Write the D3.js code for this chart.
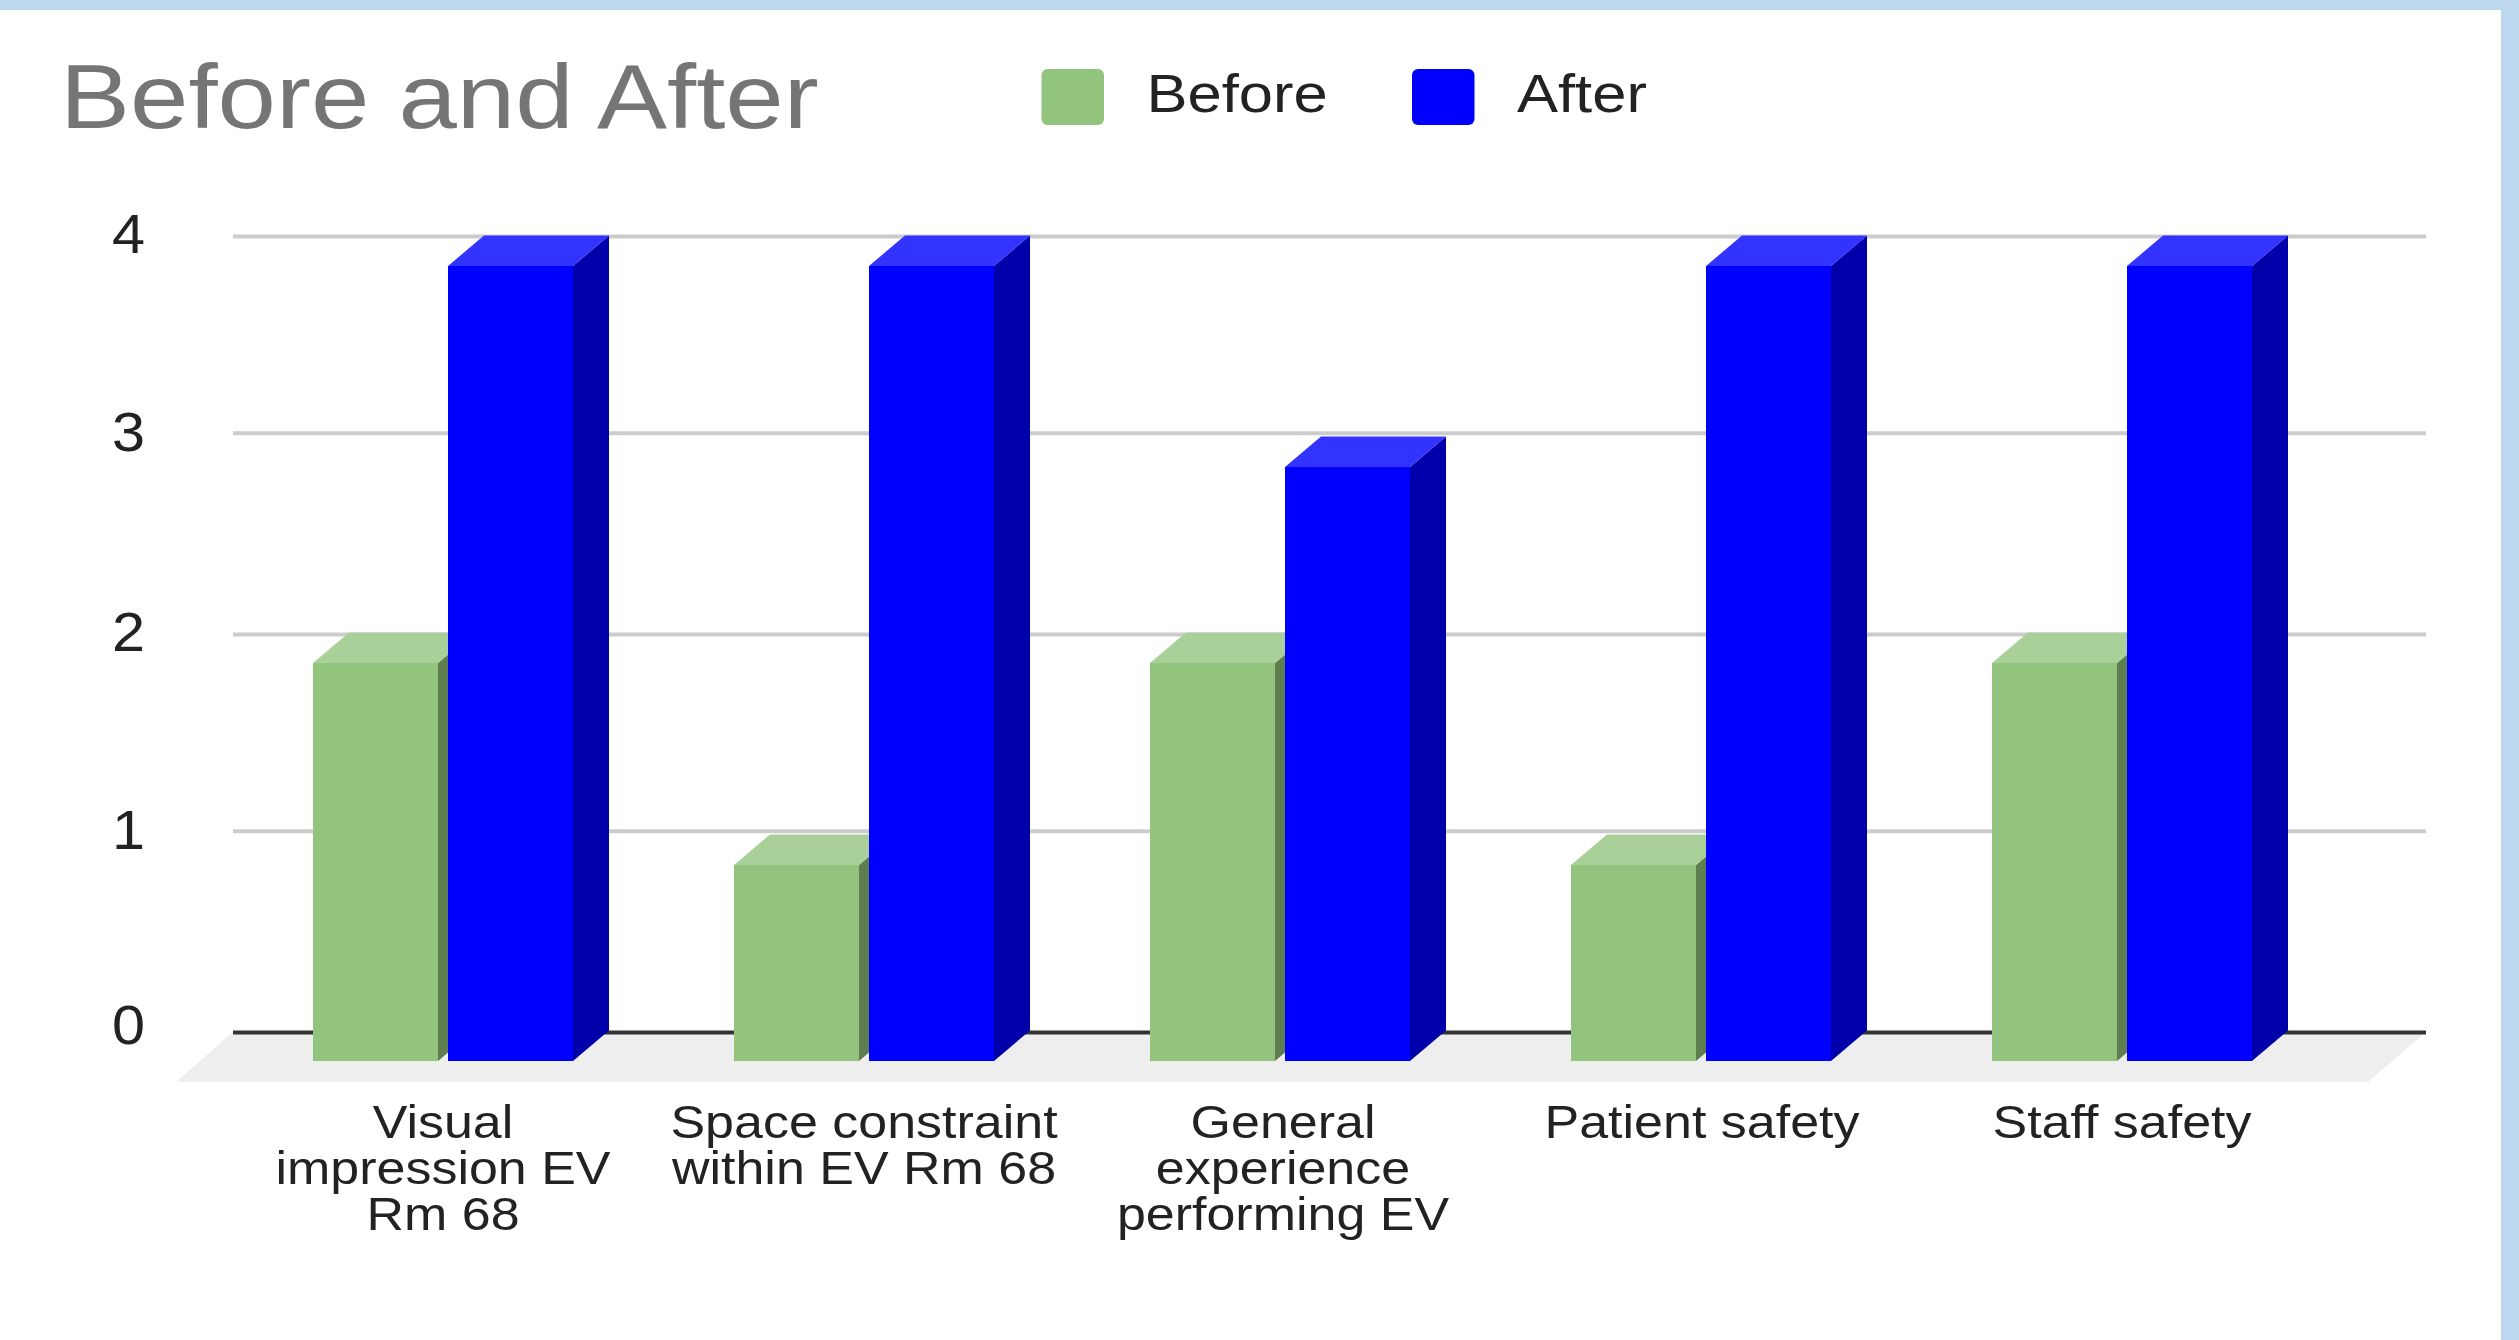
<!DOCTYPE html>
<html>
<head>
<meta charset="utf-8">
<script src="https://cdn.jsdelivr.net/npm/d3@7"></script>
<style>
  html, body { margin: 0; padding: 0; background: #fff; overflow: hidden; }
  svg { display: block; }
  text { font-family: "Liberation Sans", Arial, sans-serif; }
</style>
</head>
<body>
<svg id="chart" width="2519" height="1340"></svg>
<script>
// ---- data ----
const chartTitle = "Before and After";
const categories = [
  "Visual impression EV Rm 68",
  "Space constraint within EV Rm 68",
  "General experience performing EV",
  "Patient safety",
  "Staff safety"
];
const categoryLines = [
  ["Visual", "impression EV", "Rm 68"],
  ["Space constraint", "within EV Rm 68"],
  ["General", "experience", "performing EV"],
  ["Patient safety"],
  ["Staff safety"]
];
const seriesNames = ["Before", "After"];
const beforeValues = [2, 1, 2, 1, 2];
const afterValues = [4, 4, 3, 4, 4];
const yTicks = [0, 1, 2, 3, 4];

// ---- layout ----
const seriesValues = [beforeValues, afterValues];
const fills = [
  { front: "#93C47D", top: "#A9D098", side: "#5E7E50" },
  { front: "#0000FF", top: "#3333FF", side: "#0000AA" }
];
const barWidth = 125, seriesStep = 135, depthX = 36, depthY = 30.5;
const gridLeft = 233, gridRight = 2426;

const svg = d3.select("#chart");

// Scales
const x = d3.scaleOrdinal().domain(categories).range([313, 734, 1150, 1571, 1992]);
const xLabel = d3.scaleOrdinal().domain(categories).range([443, 864, 1283, 1702, 2122]);
const yBack = d3.scaleLinear().domain(yTicks).range([1032, 830.7, 634, 432.7, 236]);
const yFront = d3.scaleLinear().domain(yTicks).range([1061, 865, 663, 467, 266]);
const yText = d3.scaleLinear().domain(yTicks).range([1043, 848, 650, 450, 252]);

// Helper: text stretched wider the way the reference is
function stretched(g, px, py, str, size, sx, color, anchor) {
  return g.append("text")
    .attr("transform", `translate(${px},${py}) scale(${sx},1)`)
    .attr("font-size", size)
    .attr("fill", color)
    .attr("text-anchor", anchor || "start")
    .text(str);
}

// Page bands
svg.append("rect").attr("x", 0).attr("y", 0).attr("width", 2519).attr("height", 10).attr("fill", "#BDD7EE");
svg.append("rect").attr("x", 2501).attr("y", 0).attr("width", 18).attr("height", 1340).attr("fill", "#BDD7EE");

// Title
stretched(svg, 60, 128, chartTitle, 90.5, 1.16, "#757575");

// Legend
const legendSwatchX = [1041.5, 1412];
const legendTextX = [1146.5, 1517];
seriesNames.forEach((name, i) => {
  svg.append("rect")
    .attr("x", legendSwatchX[i]).attr("y", 69)
    .attr("width", 62.5).attr("height", 56)
    .attr("rx", 6).attr("ry", 6)
    .attr("fill", fills[i].front);
  stretched(svg, legendTextX[i], 112, name, 53.5, 1.15, "#222222");
});

// Floor
svg.append("polygon")
  .attr("points", [[gridLeft, 1032], [gridRight, 1032], [2368, 1082], [176, 1082]].join(" "))
  .attr("fill", "#EEEEEE");

// Gridlines from an axis
const gridAxis = d3.axisLeft(yBack).tickValues(yTicks)
  .tickSize(-(gridRight - gridLeft)).tickFormat("");
const gridG = svg.append("g").attr("transform", `translate(${gridLeft},0)`).call(gridAxis);
gridG.select(".domain").remove();
gridG.selectAll(".tick line")
  .attr("stroke", d => d === 0 ? "#333333" : "#CCCCCC")
  .attr("stroke-width", 4);

// Y labels from an axis
const labelAxis = d3.axisLeft(yText).tickValues(yTicks).tickSize(0).tickFormat(d3.format("d"));
const labelG = svg.append("g").attr("transform", "translate(145,0)").call(labelAxis);
labelG.select(".domain").remove();
labelG.selectAll(".tick line").remove();
labelG.attr("font-size", null).attr("font-family", null);
labelG.selectAll(".tick text")
  .attr("x", 0).attr("dy", 0).attr("y", 0)
  .attr("transform", "scale(1.08,1)")
  .attr("font-size", 55)
  .attr("text-anchor", "end")
  .attr("fill", "#222222");

// 3D bars
const barData = [];
categories.forEach((c, ci) => seriesNames.forEach((s, si) => {
  barData.push({ category: c, seriesIndex: si, value: seriesValues[si][ci] });
}));

const bars = svg.append("g").selectAll("g").data(barData).join("g");
const pts = a => a.map(p => p.join(",")).join(" ");
const left = d => x(d.category) + d.seriesIndex * seriesStep;

bars.append("polygon") // right side
  .attr("points", d => {
    const r = left(d) + barWidth, t = yFront(d.value), b = yFront(0);
    return pts([[r, t], [r + depthX, t - depthY], [r + depthX, b - depthY], [r, b]]);
  })
  .attr("fill", d => fills[d.seriesIndex].side);

bars.append("polygon") // top
  .attr("points", d => {
    const l = left(d), r = l + barWidth, t = yFront(d.value);
    return pts([[l, t], [l + depthX, t - depthY], [r + depthX, t - depthY], [r, t]]);
  })
  .attr("fill", d => fills[d.seriesIndex].top);

bars.append("rect") // front
  .attr("x", left)
  .attr("y", d => yFront(d.value))
  .attr("width", barWidth)
  .attr("height", d => yFront(0) - yFront(d.value))
  .attr("fill", d => fills[d.seriesIndex].front);

// Category labels
categories.forEach((c, i) => {
  categoryLines[i].forEach((line, li) => {
    stretched(svg, xLabel(c), 1138 + li * 46, line, 46, 1.13, "#222222", "middle");
  });
});
</script>
</body>
</html>
